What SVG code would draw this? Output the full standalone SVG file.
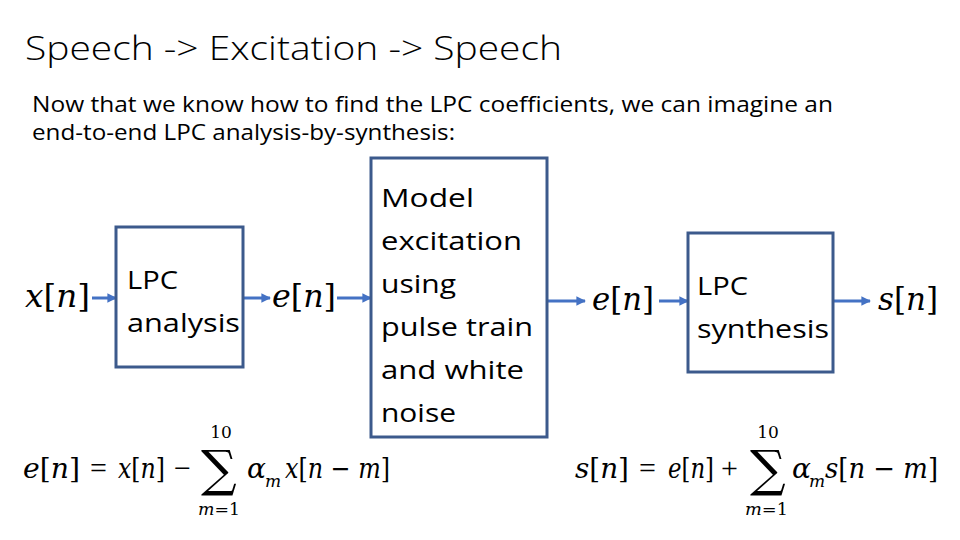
<svg xmlns="http://www.w3.org/2000/svg" width="960" height="540" viewBox="0 0 960 540">
<defs>
<marker id="ah" viewBox="0 0 10 10" refX="9" refY="5" markerWidth="3.2" markerHeight="3.2" orient="auto" markerUnits="strokeWidth">
<path d="M0,0 L10,5 L0,10 z" fill="#4472C4"/>
</marker>
<style>
.box{fill:#fff;stroke:#3C5A8C;stroke-width:3}
.lbl{font-family:"Open Sans","Liberation Sans",sans-serif;font-size:26px;fill:#000}
.title{font-family:"Open Sans","Liberation Sans",sans-serif;font-size:33px;fill:#000;font-weight:300}
.sub{font-family:"Open Sans","Liberation Sans",sans-serif;font-size:21px;fill:#000}
.m{font-family:"DejaVu Serif","Liberation Serif",serif;font-style:italic;font-size:28px;fill:#000}
.ml{font-family:"DejaVu Serif","Liberation Serif",serif;font-style:italic;font-size:31px;fill:#000}
.op{font-family:"Liberation Serif","DejaVu Serif",serif;font-size:30px;fill:#000}
.n{font-style:normal}
.sm{font-family:"DejaVu Serif","Liberation Serif",serif;font-style:italic;font-size:17px;fill:#000}
.smr{font-family:"DejaVu Serif","Liberation Serif",serif;font-size:17px;fill:#000}
.sig{font-family:"DejaVu Serif","Liberation Serif",serif;font-size:50px;fill:#000}
.conn{stroke:#4472C4;stroke-width:3;fill:none;marker-end:url(#ah)}
</style>
</defs>
<rect width="960" height="540" fill="#fff"/>
<text class="title" x="25" y="60" textLength="537" lengthAdjust="spacingAndGlyphs">Speech -&gt; Excitation -&gt; Speech</text>
<text class="sub" x="32" y="112" textLength="801" lengthAdjust="spacingAndGlyphs">Now that we know how to find the LPC coefficients, we can imagine an</text>
<text class="sub" x="32" y="140" textLength="423" lengthAdjust="spacingAndGlyphs">end-to-end LPC analysis-by-synthesis:</text>

<g id="connectors">
<line class="conn" x1="92" y1="298" x2="116" y2="298"/>
<line class="conn" x1="243" y1="298" x2="270" y2="298"/>
<line class="conn" x1="337" y1="298" x2="371" y2="298"/>
<line class="conn" x1="547" y1="301" x2="585" y2="301"/>
<line class="conn" x1="659" y1="301" x2="688" y2="301"/>
<line class="conn" x1="833" y1="301" x2="870" y2="301"/>
</g>

<g id="node-analysis">
<rect class="box" x="116" y="227" width="127" height="140"/>
<text class="lbl" x="127" y="289" textLength="51" lengthAdjust="spacingAndGlyphs">LPC</text>
<text class="lbl" x="127" y="332" textLength="113" lengthAdjust="spacingAndGlyphs">analysis</text>
</g>

<g id="node-excitation">
<rect class="box" x="371" y="158" width="176" height="279"/>
<text class="lbl" x="381" y="207" textLength="93" lengthAdjust="spacingAndGlyphs">Model</text>
<text class="lbl" x="381" y="250" textLength="141" lengthAdjust="spacingAndGlyphs">excitation</text>
<text class="lbl" x="381" y="293" textLength="75" lengthAdjust="spacingAndGlyphs">using</text>
<text class="lbl" x="381" y="336" textLength="152" lengthAdjust="spacingAndGlyphs">pulse train</text>
<text class="lbl" x="381" y="379" textLength="143" lengthAdjust="spacingAndGlyphs">and white</text>
<text class="lbl" x="381" y="422" textLength="75" lengthAdjust="spacingAndGlyphs">noise</text>
</g>

<g id="node-synthesis">
<rect class="box" x="688" y="233" width="145" height="139"/>
<text class="lbl" x="697" y="295" textLength="51" lengthAdjust="spacingAndGlyphs">LPC</text>
<text class="lbl" x="697" y="338" textLength="132" lengthAdjust="spacingAndGlyphs">synthesis</text>
</g>

<g id="signals">
<text class="ml" x="25" y="307" textLength="65" lengthAdjust="spacingAndGlyphs">x<tspan class="n">[</tspan>n<tspan class="n">]</tspan></text>
<text class="ml" x="272" y="307" textLength="64" lengthAdjust="spacingAndGlyphs">e<tspan class="n">[</tspan>n<tspan class="n">]</tspan></text>
<text class="ml" x="592" y="310" textLength="62" lengthAdjust="spacingAndGlyphs">e<tspan class="n">[</tspan>n<tspan class="n">]</tspan></text>
<text class="ml" x="878" y="310" textLength="60" lengthAdjust="spacingAndGlyphs">s<tspan class="n">[</tspan>n<tspan class="n">]</tspan></text>
</g>

<g id="eq-left">
<text class="m" x="23" y="478" textLength="57" lengthAdjust="spacingAndGlyphs">e<tspan class="n">[</tspan>n<tspan class="n">]</tspan></text>
<text class="op" x="90" y="478">=</text>
<text class="m" x="118" y="478" textLength="47" lengthAdjust="spacingAndGlyphs">x<tspan class="n">[</tspan>n<tspan class="n">]</tspan></text>
<text class="op" x="174" y="478">−</text>
<text class="sig" x="201" y="486">∑</text>
<text class="smr" x="221" y="438" text-anchor="middle">10</text>
<text class="sm" x="198" y="515" textLength="42" lengthAdjust="spacingAndGlyphs">m<tspan class="n">=1</tspan></text>
<text class="m" x="247" y="478">α</text>
<text class="sm" x="265" y="487">m</text>
<text class="m" x="285" y="478" textLength="105" lengthAdjust="spacingAndGlyphs">x<tspan class="n">[</tspan>n<tspan class="n"> − </tspan>m<tspan class="n">]</tspan></text>
</g>

<g id="eq-right">
<text class="m" x="575" y="478" textLength="54" lengthAdjust="spacingAndGlyphs">s<tspan class="n">[</tspan>n<tspan class="n">]</tspan></text>
<text class="op" x="639" y="478">=</text>
<text class="m" x="668" y="478" textLength="46" lengthAdjust="spacingAndGlyphs">e<tspan class="n">[</tspan>n<tspan class="n">]</tspan></text>
<text class="op" x="721" y="478">+</text>
<text class="sig" x="750" y="486">∑</text>
<text class="smr" x="768" y="438" text-anchor="middle">10</text>
<text class="sm" x="745" y="515" textLength="43" lengthAdjust="spacingAndGlyphs">m<tspan class="n">=1</tspan></text>
<text class="m" x="792" y="478">α</text>
<text class="sm" x="809" y="487">m</text>
<text class="m" x="825" y="478" textLength="113" lengthAdjust="spacingAndGlyphs">s<tspan class="n">[</tspan>n<tspan class="n"> − </tspan>m<tspan class="n">]</tspan></text>
</g>
</svg>
